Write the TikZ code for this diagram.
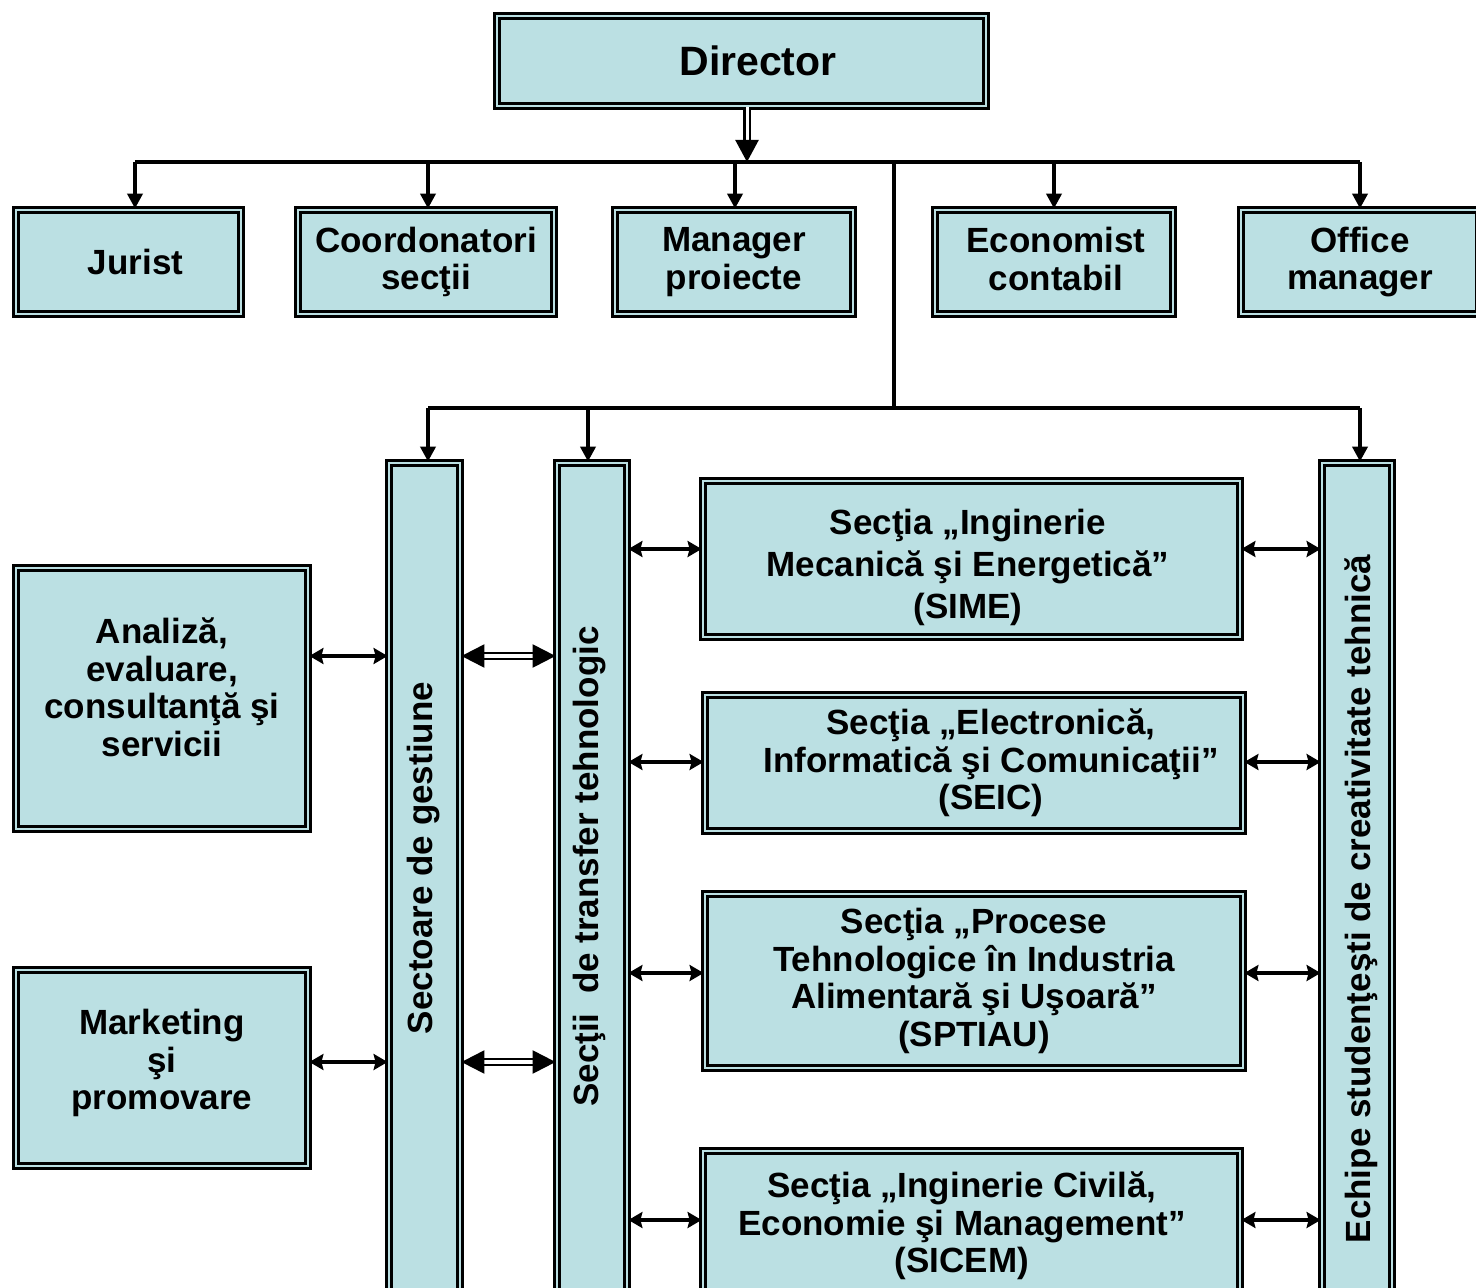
\documentclass[tikz,border=0pt]{standalone}
\usepackage{fontspec}
\setmainfont{Liberation Sans}
\usetikzlibrary{arrows.meta,calc}
\definecolor{boxfill}{RGB}{187,224,227}
\begin{document}
\begin{tikzpicture}[
      x=0.5pt, y=-0.5pt,
      box/.style={draw,line width=1.4pt,double=boxfill,double distance=1.3pt,fill=boxfill,inner sep=0pt,align=center,font=\bfseries\fontsize{17.5}{18.75}\selectfont},
      boxtext/.style={inner sep=0pt,align=center,font=\bfseries\fontsize{17.5}{18.75}\selectfont},
      vtext/.style={boxtext,rotate=90},
      conn/.style={line width=1.9pt},
      down/.style={conn,-{Triangle[length=7.5pt,width=7.5pt]}},
      both/.style={conn,{Stealth[length=7pt,width=8pt,inset=1pt]}-{Stealth[length=7pt,width=8pt,inset=1pt]}},
      dboth/.style={double,line width=1.1pt,double distance=1.6pt,{Triangle[length=11.5pt,width=11.5pt]}-{Triangle[length=11.5pt,width=11.5pt]}},
      dirarrow/.style={double,line width=1.2pt,double distance=1.5pt,-{Triangle[length=11pt,width=11.5pt]}}
    ]
    \path[use as bounding box] (0,0) rectangle (1476,1288);
    \clip (0,0) rectangle (1476,1288);
    \fill[white] (0,0) rectangle (1476,1288);

    \node[box,minimum width=244.5pt,minimum height=45pt] (director) at (741.5,61) {};
    \node[boxtext,font=\bfseries\fontsize{20.5}{24}\selectfont] (directorT) at (758,61) {Director};

    \node[box,minimum width=112.5pt,minimum height=52pt] (jurist) at (128.5,262) {};
    \node[boxtext] (juristT) at (135.5,262) {Jurist};
    \node[box,minimum width=128pt,minimum height=52pt] (coord) at (426,262) {Coordonatori\\secţii};
    \node[box,minimum width=119pt,minimum height=52pt] (manager) at (734,262) {Manager\\proiecte};
    \node[box,minimum width=119pt,minimum height=52pt] (economist) at (1054,262) {};
    \node[boxtext] (economistT) at (1056,259) {Economist\\contabil};
    \node[box,minimum width=119pt,minimum height=52pt] (office) at (1360,262) {Office\\manager};

    \node[box,minimum width=35.5pt,minimum height=421.5pt] (gestiune) at (424.5,884.5) {};
    \node[box,minimum width=35pt,minimum height=421.5pt] (transfer) at (592,884.5) {};
    \node[box,minimum width=35pt,minimum height=421.5pt] (echipe) at (1357,884.5) {};
    \node[vtext] (gestiuneT) at (424,858) {Sectoare de gestiune};
    \node[vtext] (transferT) at (590,866.5) {Secţii\ \ de transfer tehnologic};
    \node[vtext] (echipeT) at (1361,899) {Echipe studenţeşti de creativitate tehnică};

    \node[box,minimum width=268.5pt,minimum height=78pt] (sime) at (971.5,559) {};
    \node[boxtext] (simeT) at (968,567) {Secţia „Inginerie\\[2.25pt]Mecanică şi Energetică”\\[2.25pt](SIME)};
    \node[box,minimum width=269pt,minimum height=68pt] (seic) at (974,763) {};
    \node[boxtext] (seicT) at (991,763) {Secţia „Electronică,\\Informatică şi Comunicaţii”\\(SEIC)};
    \node[box,minimum width=269pt,minimum height=87pt] (sptiau) at (974,981) {Secţia „Procese\\Tehnologice în Industria\\Alimentară şi Uşoară”\\(SPTIAU)};
    \node[box,minimum width=268.5pt,minimum height=75pt] (sicem) at (971.5,1226) {};
    \node[boxtext] (sicemT) at (962,1226) {Secţia „Inginerie Civilă,\\Economie şi Management”\\(SICEM)};

    \node[box,minimum width=146pt,minimum height=130.5pt] (analiza) at (162,698.5) {};
    \node[boxtext] (analizaT) at (162,687.5) {Analiză,\\evaluare,\\consultanţă şi\\servicii};
    \node[box,minimum width=146pt,minimum height=98pt] (marketing) at (162,1068) {};
    \node[boxtext] (marketingT) at (162,1063) {Marketing\\şi\\promovare};

    \coordinate (dirA) at (747,162);
    \coordinate (bus) at (894,162);
    \coordinate (trunk) at (894,408);
    \foreach \n/\x in {jurist/135,coord/428,manager/735,economist/1054,office/1360} {
      \coordinate (t\n) at (\x,162);
      \draw[down] (t\n) -- (t\n |- \n.north);
    }
    \draw[conn] (tjurist) -- (toffice);
    \draw[dirarrow] (director.south -| dirA) -- (dirA);
    \draw[conn] (bus) -- (trunk);
    \foreach \n/\x in {gestiune/428,transfer/588,echipe/1360} {
      \coordinate (s\n) at (\x,408);
      \draw[down] (s\n) -- (s\n |- \n.north);
    }
    \draw[conn] (sgestiune) -- (sechipe);

    \coordinate (rowA) at (0,656);
    \coordinate (rowB) at (0,1062);
    \draw[both] (analiza.east |- rowA) -- (gestiune.west |- rowA);
    \draw[both] (marketing.east |- rowB) -- (gestiune.west |- rowB);
    \draw[dboth] (gestiune.east |- rowA) -- (transfer.west |- rowA);
    \draw[dboth] (gestiune.east |- rowB) -- (transfer.west |- rowB);
    \foreach \n/\y in {sime/549,seic/762,sptiau/973,sicem/1220} {
      \coordinate (r\n) at (0,\y);
      \draw[both] (transfer.east |- r\n) -- (\n.west |- r\n);
      \draw[both] (\n.east |- r\n) -- (echipe.west |- r\n);
    }
  \end{tikzpicture}
\end{document}
